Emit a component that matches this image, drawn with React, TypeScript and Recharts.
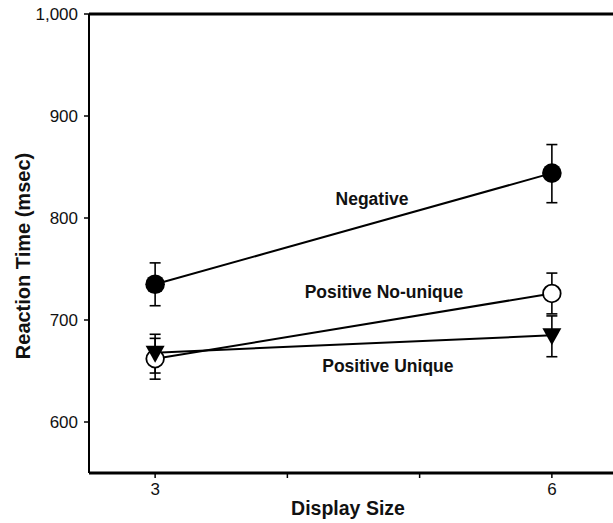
import React from "react"
import {
  ComposedChart, Line, XAxis, YAxis, ErrorBar, ReferenceLine, ReferenceDot, Label,
} from "recharts"

// display sizes and mean RTs (msec)
const sizes = [3, 6]
const negative = [735, 844]
const negativeErr = [[21, 21], [29, 28]]
const posNoUnique = [662, 726]
const posNoUniqueErr = [[20, 20], [20, 20]]
const posUnique = [668, 685]
const posUniqueErr = [[20, 18], [21, 19]]

const xTicks = [3, 4, 5, 6]
const yTicks = [600, 700, 800, 900, 1000]

const mk = (vals: number[], errs: number[][]) =>
  sizes.map((s, i) => ({ x: s, y: vals[i], err: errs[i] }))

const negData = mk(negative, negativeErr)
const nuData = mk(posNoUnique, posNoUniqueErr)
const uData = mk(posUnique, posUniqueErr)

const FONT = "'Liberation Sans', Arial, sans-serif"

const FilledDot = (p: any) => <circle key={p.index} cx={p.cx} cy={p.cy} r={9.8} fill="#000" />
const OpenDot = (p: any) => (
  <circle key={p.index} cx={p.cx} cy={p.cy} r={8.8} fill="#fff" stroke="#000" strokeWidth={1.8} />
)
const TriDot = (p: any) => (
  <path
    key={p.index}
    d={`M${p.cx - 9.5},${p.cy - 7} L${p.cx + 9.5},${p.cy - 7} L${p.cx},${p.cy + 10} Z`}
    fill="#000"
  />
)

const seriesLabel = (text: string) => (props: any) => {
  const { viewBox } = props
  return (
    <text x={viewBox.x} y={viewBox.y} textAnchor="middle" fontFamily={FONT} fontWeight="bold" fontSize={17.5} fill="#111">
      {text}
    </text>
  )
}

export default function App() {
  return (
    <div style={{ position: "absolute", left: 0, top: 0, width: 613, height: 523, overflow: "hidden", background: "#fff" }}>
      <ComposedChart width={623} height={523} margin={{ top: 14, right: 5, bottom: 0, left: 29 }}>
        <XAxis
          type="number"
          dataKey="x"
          domain={[2.5, 6.5]}
          ticks={xTicks}
          allowDataOverflow
          tickFormatter={(v) => (v === 3 || v === 6 ? String(v) : "")}
          tick={{ fill: "#111", fontSize: 17, fontFamily: FONT }}
          tickSize={5}
          tickMargin={5}
          axisLine={{ stroke: "#000", strokeWidth: 2.8 }}
          tickLine={{ stroke: "#000", strokeWidth: 1.5 }}
          height={50}
        >
          <Label
            content={(props: any) => {
              const vb = props.viewBox
              return (
                <text x={348} y={vb.y + vb.height - 8} textAnchor="middle" fontFamily={FONT} fontWeight="bold" fontSize={19.5} fill="#111">
                  Display Size
                </text>
              )
            }}
          />
        </XAxis>
        <YAxis
          type="number"
          domain={[550, 1000]}
          ticks={yTicks}
          allowDataOverflow
          tickFormatter={(v) => v.toLocaleString("en-US")}
          tick={{ fill: "#111", fontSize: 17, fontFamily: FONT }}
          tickSize={5}
          tickMargin={6}
          axisLine={{ stroke: "#000", strokeWidth: 2 }}
          tickLine={{ stroke: "#000", strokeWidth: 1.5 }}
          width={60}
        >
          <Label
            content={() => (
              <text x={30} y={256} transform="rotate(-90, 30, 256)" textAnchor="middle" fontFamily={FONT} fontWeight="bold" fontSize={20} fill="#111">
                Reaction Time (msec)
              </text>
            )}
          />
        </YAxis>
        <ReferenceLine y={1000} stroke="#000" strokeWidth={2.8} />

        <Line data={negData} dataKey="y" stroke="#000" strokeWidth={2} dot={FilledDot} isAnimationActive={false}>
          <ErrorBar dataKey="err" width={5.5} stroke="#000" strokeWidth={1.6} />
        </Line>
        <Line data={nuData} dataKey="y" stroke="#000" strokeWidth={2} dot={OpenDot} isAnimationActive={false}>
          <ErrorBar dataKey="err" width={5.5} stroke="#000" strokeWidth={1.6} />
        </Line>
        <Line data={uData} dataKey="y" stroke="#000" strokeWidth={2} dot={TriDot} isAnimationActive={false}>
          <ErrorBar dataKey="err" width={5.5} stroke="#000" strokeWidth={1.6} />
        </Line>

        <ReferenceDot x={4.64} y={812.7} r={0} label={seriesLabel("Negative")} />
        <ReferenceDot x={4.73} y={721.6} r={0} label={seriesLabel("Positive No-unique")} />
        <ReferenceDot x={4.76} y={649} r={0} label={seriesLabel("Positive Unique")} />
      </ComposedChart>
    </div>
  )
}
